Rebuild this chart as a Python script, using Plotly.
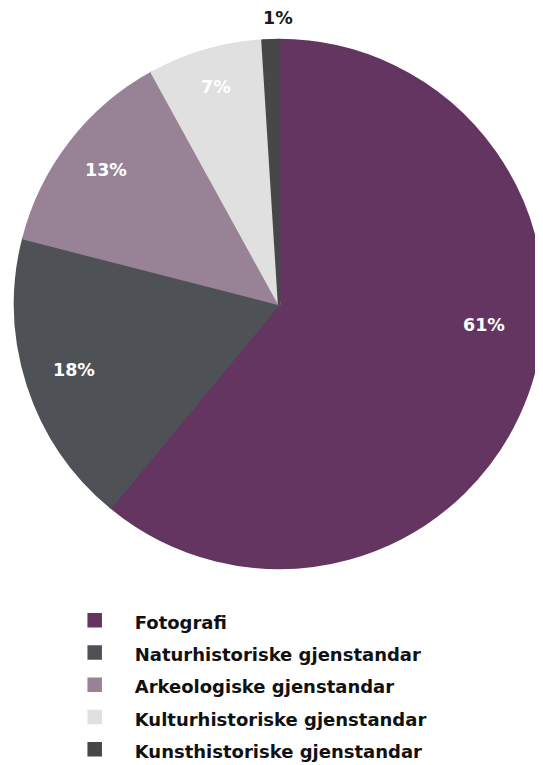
import math
import plotly.graph_objects as go

categories = ["Fotografi", "Naturhistoriske gjenstandar", "Arkeologiske gjenstandar",
              "Kulturhistoriske gjenstandar", "Kunsthistoriske gjenstandar"]
shares = [61, 18, 13, 7, 1]

# styling (not data)
colors = ["#633560", "#4E5256", "#988396", "#DFE0DF", "#454749"]
label_colors = ["#ffffff", "#ffffff", "#ffffff", "#ffffff", "#1a1a1a"]
label_radius = [0.78, 0.815, 0.83, 0.855, 1.085]     # fraction of pie radius
label_angle_shift = [-14.0, 0.0, 0.0, 0.0, 1.5]      # degrees
FONT = "DejaVu Sans"
W, H = 535, 757           # page adds an 8px body margin; this keeps the figure inside the window
DOM_X = [0.0133, 1.0]
DOM_Y = [0.2590, 0.9590]

legend_labels = ["<span style='font-size:18px'>%s</span>" % c for c in categories]

fig = go.Figure(go.Pie(
    labels=legend_labels,
    values=shares,
    sort=False,
    direction="clockwise",
    rotation=0,
    marker=dict(colors=colors, line=dict(color=colors, width=2.5)),
    textinfo="none",
    domain=dict(x=DOM_X, y=DOM_Y),
    hoverinfo="skip",
))

# percentage labels, placed from the data (cumulative angle of each slice)
cx = W * (DOM_X[0] + DOM_X[1]) / 2
cy = H * (1 - (DOM_Y[0] + DOM_Y[1]) / 2)
R = min(W * (DOM_X[1] - DOM_X[0]), H * (DOM_Y[1] - DOM_Y[0])) / 2
total = sum(shares)
cum = 0
for i, v in enumerate(shares):
    mid = (cum + v / 2) / total * 360 + label_angle_shift[i]
    cum += v
    a = math.radians(mid)
    px = cx + label_radius[i] * R * math.sin(a)
    py = cy - label_radius[i] * R * math.cos(a)
    fig.add_annotation(
        x=px / W, y=1 - py / H, xref="paper", yref="paper",
        text="%d%%" % v, showarrow=False,
        xanchor="center", yanchor="middle",
        font=dict(family=FONT, size=17.5, color=label_colors[i], weight="bold"),
    )

fig.update_layout(
    width=W, height=H,
    margin=dict(l=0, r=0, t=0, b=0, autoexpand=False),
    paper_bgcolor="white",
    plot_bgcolor="white",
    showlegend=True,
    legend=dict(
        x=46.7 / W, y=1 - 591 / H, xanchor="left", yanchor="top",
        font=dict(family=FONT, size=22.5, color="#111111", weight="bold"),
        itemwidth=70,
        bgcolor="rgba(0,0,0,0)",
        traceorder="normal",
    ),
)

fig.write_html("out.html")
